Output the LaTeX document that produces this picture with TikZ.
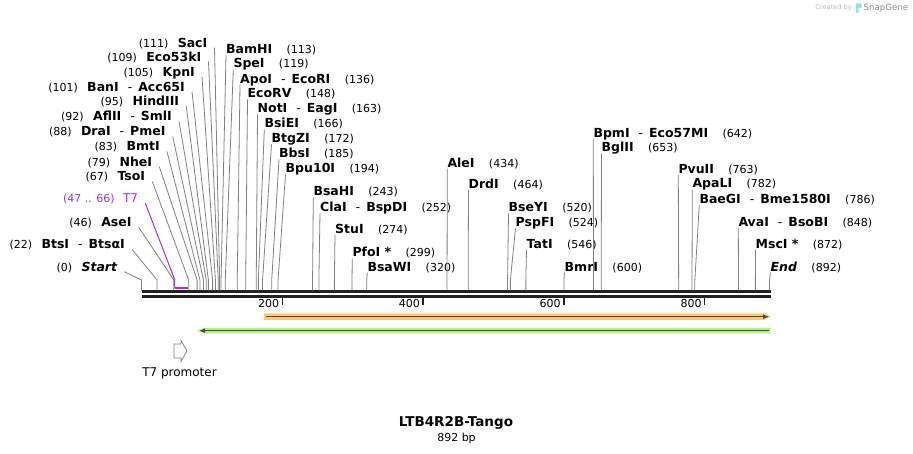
\documentclass[tikz,border=0pt]{standalone}
\usepackage{fontspec}
\setmainfont{DejaVu Sans}
\usepackage{tikz}
\usetikzlibrary{arrows.meta}
\definecolor{sitegray}{RGB}{128,128,128}
\definecolor{backbone}{RGB}{34,34,34}
\definecolor{tpurple}{RGB}{165,45,240}
\definecolor{cdsorange}{RGB}{250,200,120}
\definecolor{cdsgreen}{RGB}{178,240,130}
\definecolor{featdark}{RGB}{75,75,75}
\newcommand{\enzsep}{\hspace{9pt}{\mdseries -}\hspace{6pt}}

\begin{document}
\begin{tikzpicture}[x=1pt,y=-1pt,
    enz/.style={font=\fontsize{12.5}{14}\selectfont\bfseries,inner sep=0pt,text height=9pt,text depth=0pt},
    pnum/.style={font=\fontsize{11}{13}\selectfont,inner sep=0pt,text height=9pt,text depth=0pt},
    siteline/.style={sitegray,line width=0.8pt}]
        \useasboundingbox (0,0) rectangle (913,454);
        \draw[backbone,line width=3.2pt] (141.5,291.7) -- (770.5,291.7);
        \draw[backbone,line width=3.2pt] (141.5,296.6) -- (770.5,296.6);
        \foreach \t in {200,400,600,800}{
            \coordinate (tk\t) at ({141.5+0.704*\t},298);
            \draw[backbone,line width=1.3pt] (tk\t) -- ++(0,7);
            \node[pnum,anchor=east] (tl\t) at ([xshift=-3pt,yshift=-5.3pt]tk\t) {\t};
        }
        \foreach \p/\y/\x/\nm in {111/42.7/207.5/SacI, 109/56.7/201.5/Eco53kI,
            105/71.7/195/KpnI, 101/86.7/185/BanI\enzsep Acc65I,
            95/101.3/179.3/HindIII, 92/116.3/172/AflII\enzsep SmlI,
            88/131.5/165.7/DraI\enzsep PmeI, 83/146.5/160/BmtI,
            79/161.7/152.3/NheI, 67/176.5/145.3/TsoI, 46/222.3/131.7/AseI,
            22/244.3/125/BtsI\enzsep BtsαI, 0/266.7/117.3/{\itshape Start}}{
            \node[enz,anchor=east] (s\p) at (\x,\y) {\nm};
            \node[pnum,anchor=east] (n\p) at ([xshift=-9pt]s\p.west) {(\p)};
            \coordinate (k\p) at ({141.5+0.704*\p},280);
            \draw[siteline] ([xshift=7pt,yshift=-5pt]s\p.east) -- (k\p) -- ++(0,10.5);
        }
        \foreach \p/\y/\x/\nm in {113/49.3/226/BamHI, 119/63.5/233.3/SpeI,
            136/78.7/240/ApoI\enzsep EcoRI, 148/93.5/247.5/EcoRV,
            163/108.5/257.5/NotI\enzsep EagI, 166/123.3/264.3/BsiEI,
            172/138.3/271.5/BtgZI, 185/153.3/279/BbsI, 194/168.3/285.5/Bpu10I,
            243/191/313.3/BsaHI, 252/207.3/320/ClaI\enzsep BspDI,
            274/228.7/335/StuI, 299/252.3/352.3/PfoI *, 320/266.7/367.3/BsaWI,
            434/162.7/447.3/AleI, 464/184/468.5/DrdI, 520/207.3/508.5/BseYI,
            524/222.3/515.5/PspFI, 546/244/526.5/TatI, 600/266.7/564.5/BmrI,
            642/132.7/593.3/BpmI\enzsep Eco57MI, 653/147.3/601.5/BglII,
            763/169/678.3/PvuII, 782/183.5/692.3/ApaLI,
            786/199/699.3/BaeGI\enzsep Bme1580I, 848/221.7/738.3/AvaI\enzsep BsoBI,
            872/244/755.5/MscI *, 892/266.7/770.5/{\itshape End}}{
            \node[enz,anchor=west] (s\p) at (\x,\y) {\nm};
            \node[pnum,anchor=west] (n\p) at ([xshift=14pt]s\p.east) {(\p)};
            \coordinate (k\p) at ({141.5+0.704*\p},280);
            \draw[siteline] ([yshift=-6pt]s\p.west) -- (k\p) -- ++(0,10.5);
        }
        \node[pnum,tpurple,anchor=east,font=\fontsize{12}{14}\selectfont] (t7) at (138.3,198.3) {T7};
        \node[pnum,tpurple,anchor=east] (t7n) at ([xshift=-8pt]t7.west) {(47 .. 66)};
        \coordinate (t7a) at ({141.5+0.704*47},279.3);
        \coordinate (t7b) at ({141.5+0.704*47},287.7);
        \coordinate (t7c) at ({141.5+0.704*66},287.7);
        \draw[tpurple,line width=1pt] ([xshift=7pt,yshift=-5pt]t7.east) -- (t7a) -- (t7b);
        \draw[tpurple,line width=2pt] (t7b) -- (t7c);
        \fill[cdsorange] (264,313.3) -- (764,313.3) -- (771,316.7) -- (764,320) -- (264,320) -- cycle;
        \draw[featdark,line width=1.6pt,-{Latex[length=6pt,width=5pt]}] (266,316.7) -- (769,316.7);
        \fill[cdsgreen] (197,330.7) -- (204,328) -- (770.7,328) -- (770.7,333.3) -- (204,333.3) -- cycle;
        \draw[featdark,line width=1.6pt,-{Latex[length=6pt,width=5pt]}] (769,330.7) -- (199,330.7);
        \draw[sitegray,line width=0.7pt,fill=white] (174,344) -- (181,344) -- (181,340.5) -- (187,351)
            -- (181,361.5) -- (181,358) -- (174,358) -- cycle;
        \node[inner sep=0pt,font=\fontsize{12}{14}\selectfont] (t7p) at (179.5,373) {T7 promoter};
        \node[inner sep=0pt,font=\fontsize{13.5}{15}\selectfont\bfseries] (title) at (456,423) {LTB4R2B-Tango};
        \node[inner sep=0pt,font=\fontsize{11}{13}\selectfont] (len) at (456.5,438.5) {892 bp};
        \node[inner sep=0pt,anchor=east,text=black!28,font=\fontsize{6.6}{8}\selectfont] (cb) at (852,8) {Created by};
        \fill[cyan!40] (856,3.5) rectangle (858.5,13) (858.5,3.5) rectangle (861.5,8);
        \node[inner sep=0pt,anchor=west,text=black!45,font=\fontsize{8.6}{10}\selectfont] (sg) at (863.5,8) {SnapGene};
\end{tikzpicture}
\end{document}
